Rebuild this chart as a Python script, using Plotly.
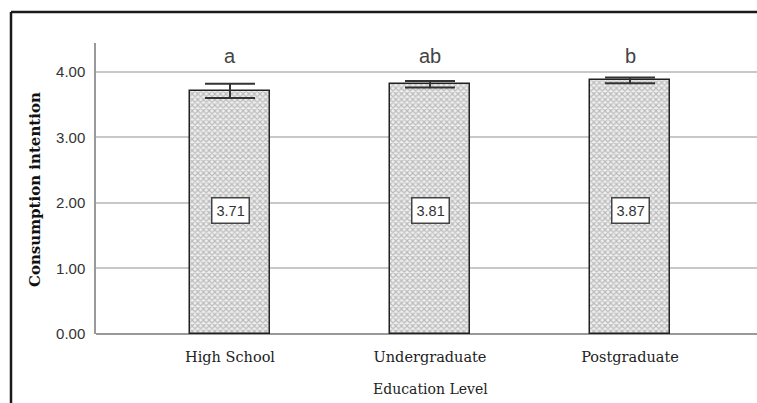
import plotly.graph_objects as go

# Mean consumption intention by education level
levels = ["High School", "Undergraduate", "Postgraduate"]
means = [3.71, 3.81, 3.87]
err_plus = [0.11, 0.05, 0.045]
err_minus = [0.11, 0.05, 0.045]
group_letters = ["a", "ab", "b"]
y_ticks = [0, 1, 2, 3, 4]
y_tick_text = ["0.00", "1.00", "2.00", "3.00", "4.00"]

W, H = 757, 403
L, R, T, B = 96, 0, 43, 69
pw, ph = W - L - R, H - T - B
y_max = 4.44
x_rng = [-0.67, 2.635]

fig = go.Figure()
fig.add_trace(go.Bar(
    x=list(range(len(levels))),
    y=means,
    width=0.4,
    marker=dict(
        color="white",
        line=dict(color="#222222", width=1.5),
        pattern=dict(shape="x", size=4, solidity=0.5,
                     fgcolor="#858585", bgcolor="#efefef"),
    ),
    error_y=dict(type="data", symmetric=False, array=err_plus,
                 arrayminus=err_minus, color="#333333",
                 thickness=2, width=25),
    showlegend=False,
    hoverinfo="skip",
))

annotations = []
# value boxes inside the bars
for i, v in enumerate(means):
    annotations.append(dict(
        x=i, y=1.88, xref="x", yref="y", text=f"{v:.2f}",
        showarrow=False, font=dict(family="Liberation Sans", size=14.5, color="#333333"),
        bgcolor="white", bordercolor="#444444", borderwidth=1.5, borderpad=4,
    ))
# significance letters above the bars
for i, s in enumerate(group_letters):
    annotations.append(dict(
        x=i, y=(334 - 56) / (ph / y_max), xref="x", yref="y", text=s,
        showarrow=False, yanchor="middle",
        font=dict(family="Liberation Sans", size=20, color="#444444"),
    ))
# axis titles
annotations.append(dict(
    x=(35 - L) / pw, y=(334 - 190) / ph, xref="paper", yref="paper",
    xanchor="center", yanchor="middle",
    text="<b>Consumption intention</b>", textangle=-90, showarrow=False,
    font=dict(family="DejaVu Serif", size=15, color="#111111"),
))
annotations.append(dict(
    x=(430 - L) / pw, y=(334 - 389) / ph, xref="paper", yref="paper",
    xanchor="center", yanchor="middle",
    text="Education Level", showarrow=False,
    font=dict(family="DejaVu Serif", size=14, color="#222222"),
))

# outer frame lines (top and left)
shapes = [
    dict(type="line", xref="paper", yref="paper",
         x0=(11 - L) / pw, x1=1.05, y0=(334 - 12) / ph, y1=(334 - 12) / ph,
         line=dict(color="#1a1a1a", width=2.5)),
    dict(type="line", xref="paper", yref="paper",
         x0=(11 - L) / pw, x1=(11 - L) / pw, y0=(334 - 12) / ph, y1=-0.3,
         line=dict(color="#1a1a1a", width=2.5)),
]

fig.update_layout(
    width=W, height=H,
    margin=dict(l=L, r=R, t=T, b=B, pad=0),
    paper_bgcolor="white", plot_bgcolor="white",
    annotations=annotations, shapes=shapes,
    bargap=0,
)
fig.update_xaxes(
    range=x_rng, tickvals=list(range(len(levels))), ticktext=levels,
    showgrid=False, zeroline=False, showline=False, ticks="",
    ticklabelstandoff=12,
    tickfont=dict(family="DejaVu Serif", size=14.5, color="#222222"),
)
fig.update_yaxes(
    range=[0, y_max], tickvals=y_ticks, ticktext=y_tick_text,
    showgrid=True, gridcolor="#c8c8c8", gridwidth=1.5,
    zeroline=True, zerolinecolor="#999999", zerolinewidth=1.5,
    showline=True, linecolor="#999999", linewidth=1.5, ticks="",
    ticklabelstandoff=6,
    tickfont=dict(family="Liberation Sans", size=15, color="#333333"),
)

fig.write_html("out.html")
